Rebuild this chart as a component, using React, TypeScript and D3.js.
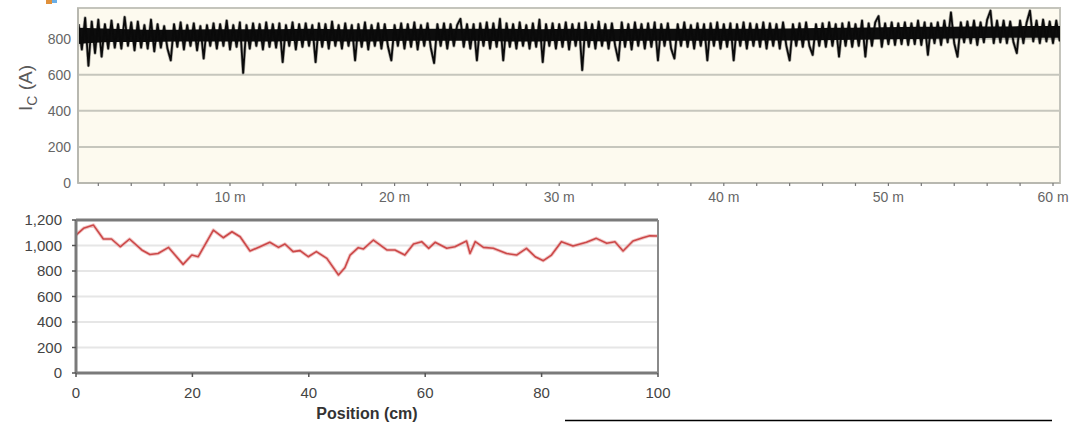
import * as d3 from "d3";

// top panel: Ic along a 60 m tape, sampled every 0.2 m starting at 0.8 m
const traceStartM = 0.8;
const traceStepM = 0.2;
const icTrace = [
  880, 740, 915, 650, 895, 720, 905, 700, 880, 745,
  900, 750, 880, 745, 920, 760, 890, 735, 895, 750,
  875, 745, 905, 730, 880, 750, 870, 745, 680, 880,
  755, 890, 740, 875, 760, 885, 735, 870, 690, 875,
  760, 885, 745, 880, 760, 900, 740, 875, 755, 890,
  610, 875, 745, 885, 760, 880, 740, 890, 755, 880,
  750, 885, 670, 875, 760, 890, 740, 880, 755, 885,
  760, 875, 670, 885, 755, 880, 745, 895, 760, 875,
  745, 885, 760, 875, 680, 880, 755, 890, 740, 875,
  760, 885, 745, 880, 755, 680, 875, 760, 885, 745,
  880, 755, 890, 740, 875, 760, 885, 750, 665, 880,
  760, 885, 745, 880, 760, 875, 910, 755, 880, 745,
  880, 680, 885, 760, 890, 745, 885, 755, 910, 680,
  885, 755, 880, 745, 890, 760, 875, 745, 885, 755,
  905, 670, 880, 760, 885, 745, 880, 755, 890, 740,
  880, 760, 885, 626, 890, 755, 880, 745, 895, 760,
  880, 745, 885, 760, 680, 890, 755, 880, 740, 890,
  760, 880, 745, 885, 755, 890, 680, 880, 760, 885,
  745, 690, 880, 760, 890, 755, 875, 745, 885, 760,
  880, 680, 885, 760, 890, 745, 880, 755, 885, 680,
  880, 760, 890, 745, 885, 760, 880, 755, 890, 745,
  885, 760, 880, 745, 890, 760, 680, 880, 760, 885,
  755, 890, 760, 710, 880, 760, 885, 755, 890, 760,
  880, 700, 885, 760, 890, 755, 880, 760, 900, 700,
  885, 760, 890, 925, 755, 885, 770, 890, 765, 885,
  770, 890, 765, 885, 770, 900, 765, 890, 710, 885,
  775, 890, 765, 900, 780, 945, 775, 700, 890, 780,
  895, 775, 900, 765, 890, 780, 905, 955, 775, 900,
  780, 900, 775, 895, 780, 720, 900, 775, 890, 955,
  785, 900, 775, 905, 785, 895, 775, 900, 790, 895,
];
// solid core of the noisy band, read every 2 m from 0.8 m
const coreStepM = 2;
const coreLo = [
  770, 782, 782, 785, 785, 785, 785, 788, 785, 785, 788, 788, 788, 785, 785, 788,
  785, 788, 788, 788, 788, 790, 790, 792, 795, 798, 800, 802, 805, 805, 805,
];
const coreHi = [
  860, 855, 850, 850, 852, 852, 852, 855, 852, 852, 855, 855, 855, 855, 852, 855,
  852, 855, 855, 855, 855, 855, 858, 860, 862, 865, 866, 868, 868, 870, 870,
];
const topXTicksM = [10, 20, 30, 40, 50, 60];
const topYTicks = [0, 200, 400, 600, 800];

// bottom panel: Ic over 1 m, position in cm
const positionCm = [
  0, 1.3, 3.0, 4.7, 6.1, 7.6, 9.2, 11.3, 12.7, 14.1, 15.9, 18.4, 19.9, 21.0,
  23.6, 25.3, 26.8, 28.2, 29.9, 31.6, 33.3, 34.8, 35.9, 37.3, 38.5, 39.9,
  41.3, 43.1, 45.1, 46.2, 47.1, 48.5, 49.4, 51.1, 53.4, 54.8, 56.5, 58.0,
  59.4, 60.6, 61.7, 63.7, 65.1, 67.1, 67.7, 68.6, 70.0, 71.7, 74.0, 75.7,
  77.4, 78.9, 80.3, 81.7, 83.4, 85.4, 87.7, 89.4, 91.2, 92.6, 94.0, 95.7,
  97.4, 98.6, 100,
];
const icBottom = [
  1082, 1135, 1160, 1051, 1051, 990, 1051, 965, 930, 937, 985, 852, 925, 912,
  1121, 1061, 1108, 1069, 957, 990, 1025, 985, 1012, 952, 960, 912,
  952, 899, 769, 826, 925, 983, 973, 1043, 965, 965, 925, 1012,
  1030, 978, 1025, 978, 990, 1035, 937, 1030, 985, 978, 937, 925,
  978, 912, 881, 925, 1030, 996, 1025, 1056, 1017, 1030, 957, 1035,
  1061, 1077, 1075,
];
const bottomXTicks = [0, 20, 40, 60, 80, 100];
const bottomYTicks = [0, 200, 400, 600, 800, 1000, 1200];

const W = 1085;
const H = 422;
const font = "'Liberation Sans', Arial, sans-serif";

const top = { left: 78, right: 1060, top: 8, bottom: 183 };
const bot = { left: 76, right: 658, top: 220, bottom: 373 };

export default function App() {
  const xTop = d3.scaleLinear().domain([0, 60]).range([65.4, 1053]);
  const yTop = d3.scaleLinear().domain([0, 970]).range([top.bottom, top.top]);
  const minorTicks = d3.range(2, 61, 2);

  const traceLine = d3
    .line<number>()
    .x((_, i) => xTop(traceStartM + i * traceStepM))
    .y((d) => yTop(d));

  const coreArea = d3
    .area<number>()
    .x((_, i) => xTop(traceStartM + i * coreStepM))
    .y0((_, i) => yTop(coreLo[i]))
    .y1((d) => yTop(d))
    .curve(d3.curveMonotoneX);

  const xB = d3.scaleLinear().domain([0, 100]).range([bot.left, bot.right]);
  const yB = d3.scaleLinear().domain([0, 1200]).range([bot.bottom, bot.top]);
  const bottomLine = d3
    .line<number>()
    .x((_, i) => xB(positionCm[i]))
    .y((d) => yB(d));

  return (
    <svg
      width={W}
      height={H}
      style={{ position: "absolute", left: 0, top: 0, background: "#fff" }}
      fontFamily={font}
    >
      {/* little icon fragment in the corner */}
      <rect x={46} y={0} width={6} height={4} fill="#e0903a" />
      <rect x={52} y={0} width={5} height={3} fill="#6aaee6" />

      {/* ---------- top panel ---------- */}
      <defs>
        <clipPath id="topClip">
          <rect x={top.left} y={top.top} width={top.right - top.left} height={top.bottom - top.top} />
        </clipPath>
      </defs>
      <rect
        x={top.left}
        y={top.top}
        width={top.right - top.left}
        height={top.bottom - top.top}
        fill="#fdfaef"
        stroke="#c4c4bc"
        strokeWidth={2}
      />
      {topYTicks.slice(1).map((t) => (
        <line key={t} x1={top.left} x2={top.right} y1={yTop(t)} y2={yTop(t)} stroke="#c6c6bd" strokeWidth={2} />
      ))}
      <g clipPath="url(#topClip)">
        <path
          d={traceLine(icTrace) ?? ""}
          fill="none"
          stroke="#555"
          strokeWidth={3.2}
          strokeLinejoin="round"
          opacity={0.5}
        />
        <path d={coreArea(coreHi) ?? ""} fill="#0d0d0d" />
        <path
          d={traceLine(icTrace) ?? ""}
          fill="none"
          stroke="#0a0a0a"
          strokeWidth={1.8}
          strokeLinejoin="round"
        />
      </g>
      <line x1={top.left} x2={top.left} y1={top.top} y2={top.bottom} stroke="#b8b8b0" strokeWidth={2} />
      <line x1={top.left} x2={top.right} y1={top.bottom} y2={top.bottom} stroke="#b8b8b0" strokeWidth={2} />
      {minorTicks.map((m) => (
        <line key={m} x1={xTop(m)} x2={xTop(m)} y1={top.bottom} y2={top.bottom + 3} stroke="#777" strokeWidth={1.2} />
      ))}
      {topXTicksM.map((m) => (
        <text key={m} x={xTop(m)} y={197} dy="0.35em" fontSize={14} fill="#666" textAnchor="middle">
          {`${m} m`}
        </text>
      ))}
      {topYTicks.map((t) => (
        <text key={t} x={71} y={yTop(t)} dy="0.35em" fontSize={14} fill="#666" textAnchor="end">
          {t}
        </text>
      ))}
      <text
        transform="translate(32,88) rotate(-90)"
        fontSize={19}
        fill="#5a5a5a"
        textAnchor="middle"
      >
        I<tspan fontSize={14} dy={5}>C</tspan>
        <tspan dy={-5}> (A)</tspan>
      </text>

      {/* ---------- bottom panel ---------- */}
      {bottomYTicks.slice(1, -1).map((t) => (
        <line key={t} x1={bot.left} x2={bot.right} y1={yB(t)} y2={yB(t)} stroke="#e6e6e6" strokeWidth={2} />
      ))}
      <path d={bottomLine(icBottom) ?? ""} fill="none" stroke="#e8a0a0" strokeWidth={3.5} strokeLinejoin="round" opacity={0.6} />
      <path d={bottomLine(icBottom) ?? ""} fill="none" stroke="#cc4848" strokeWidth={1.6} strokeLinejoin="round" />
      <line x1={bot.left} x2={bot.right} y1={bot.top} y2={bot.top} stroke="#7a7a7a" strokeWidth={3} />
      <line x1={bot.left} x2={bot.right} y1={bot.bottom} y2={bot.bottom} stroke="#7a7a7a" strokeWidth={3} />
      <line x1={bot.left} x2={bot.left} y1={bot.top} y2={bot.bottom} stroke="#7a7a7a" strokeWidth={3} />
      <line x1={bot.right} x2={bot.right} y1={bot.top} y2={bot.bottom} stroke="#8a8a8a" strokeWidth={2} />
      {bottomYTicks.map((t) => (
        <g key={t}>
          <line x1={bot.left - 4} x2={bot.left} y1={yB(t)} y2={yB(t)} stroke="#555" strokeWidth={1.5} />
          <text x={62} y={yB(t)} dy="0.35em" fontSize={15} fill="#444" textAnchor="end">
            {d3.format(",")(t)}
          </text>
        </g>
      ))}
      {bottomXTicks.map((t) => (
        <g key={t}>
          <line x1={xB(t)} x2={xB(t)} y1={bot.bottom} y2={bot.bottom + 4} stroke="#555" strokeWidth={1.5} />
          <text x={xB(t)} y={393} dy="0.35em" fontSize={15} fill="#444" textAnchor="middle">
            {t}
          </text>
        </g>
      ))}
      <text x={(bot.left + bot.right) / 2} y={413} dy="0.35em" fontSize={16} fill="#333" textAnchor="middle" fontWeight="bold">
        Position (cm)
      </text>

      {/* stray rule at the bottom right */}
      <line x1={565} x2={1052} y1={420.5} y2={420.5} stroke="#000" strokeWidth={1.5} />
    </svg>
  );
}
